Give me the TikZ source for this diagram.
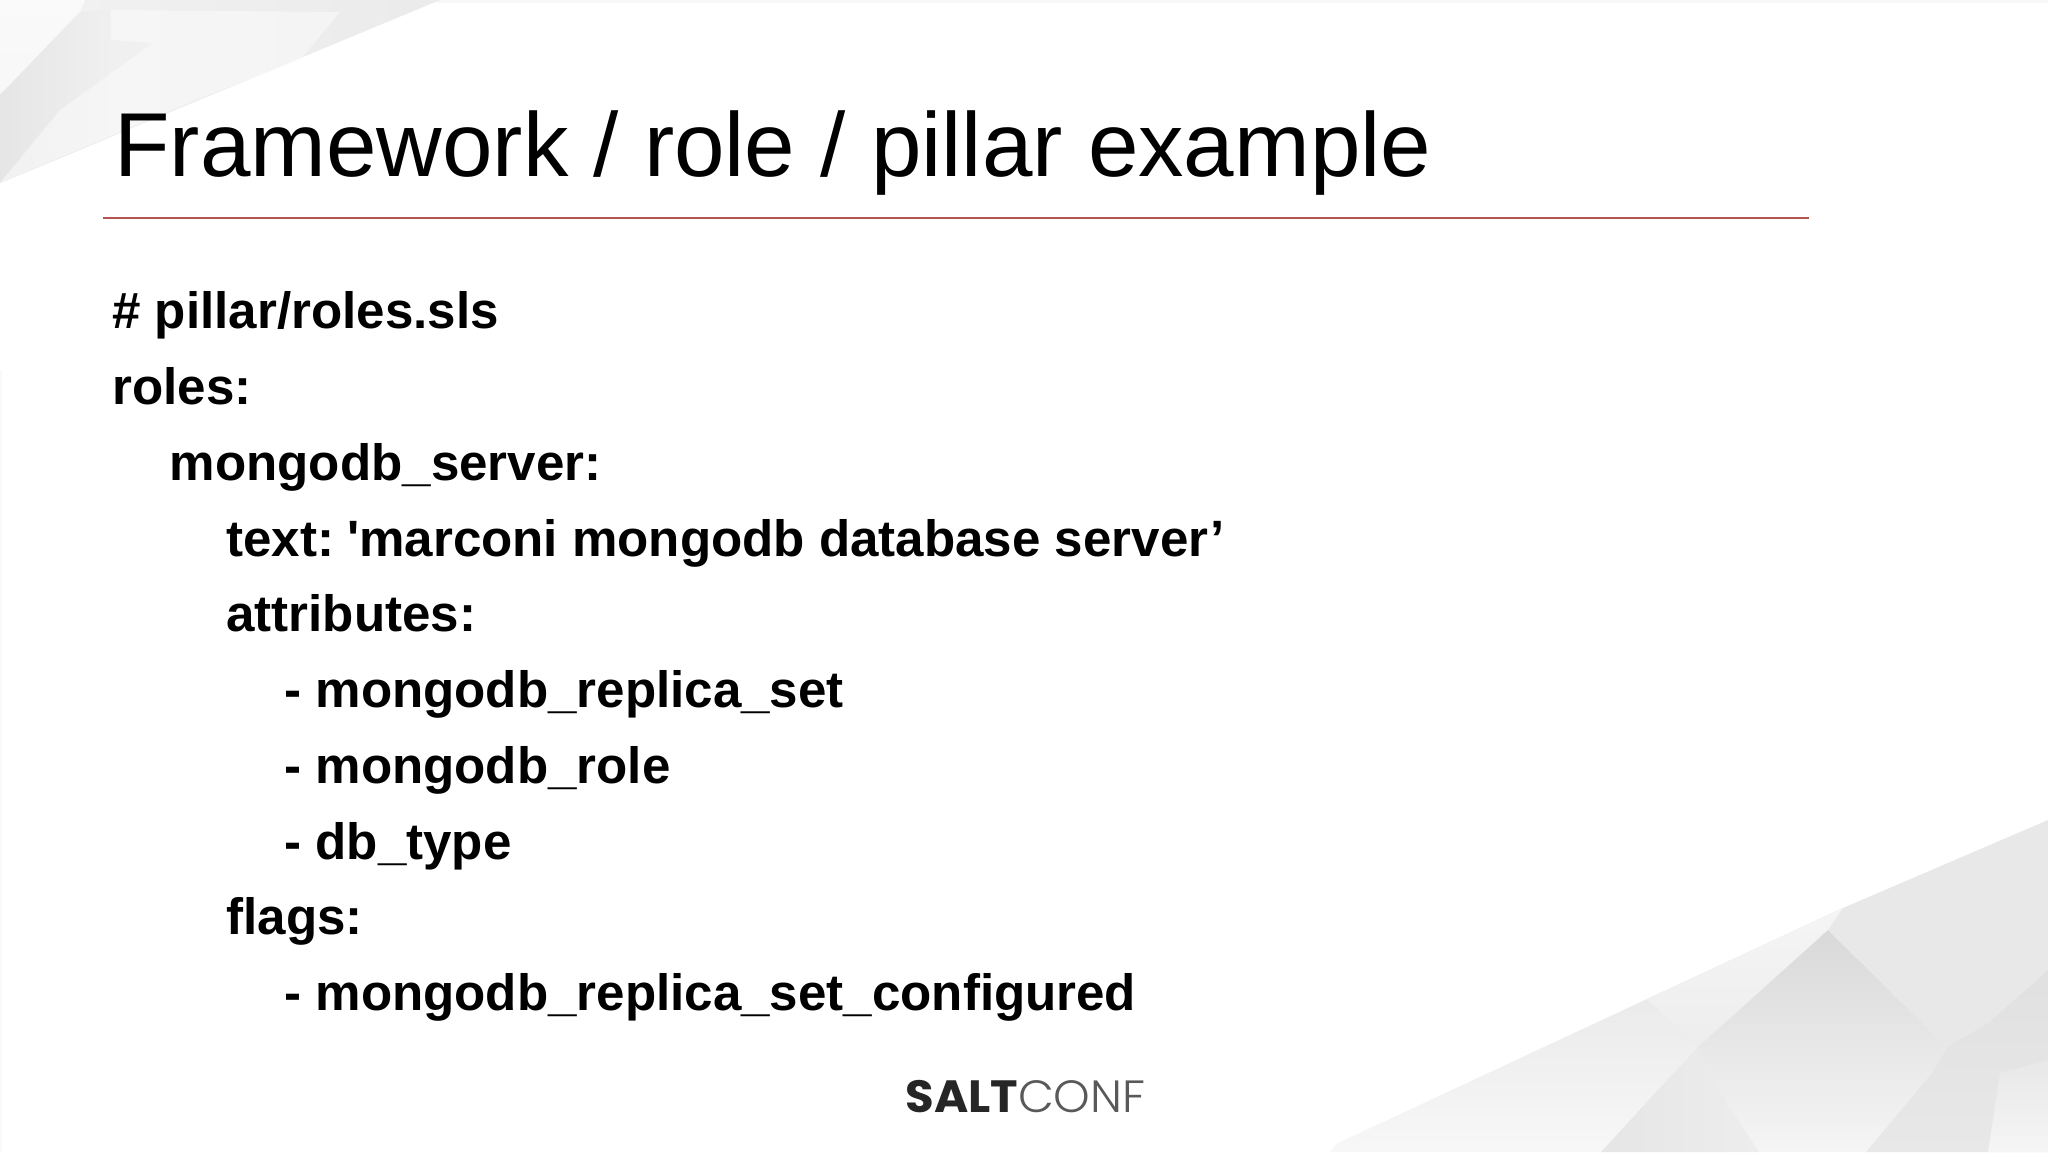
\documentclass[tikz,border=0pt]{standalone}
\usepackage{fontspec}
\setmainfont{Liberation Sans}
\newfontfamily\codefont{Liberation Sans}
\newfontfamily\logofont{Poppins}
\newfontfamily\logolight{Poppins Light}
\definecolor{rulered}{HTML}{B85450}
\tikzset{
  x=0.5pt,y=-0.5pt,
  codeline/.style={anchor=base west,inner sep=0pt,font=\codefont\fontsize{25.55}{30}\selectfont\bfseries,text=black},
  titletext/.style={anchor=base west,inner sep=0pt,font=\fontsize{45.4}{52}\selectfont,text=black},
}
\begin{document}
\begin{tikzpicture}
\useasboundingbox (0,0) rectangle (2048,1152);
\fill[white] (0,0) rectangle (2048,1152);
% faint edges
\fill[black!3] (437,0) rectangle (2048,3);
\fill[black!2] (0,370) rectangle (2,1152);
% top-left facets
\shade[left color=black!5,right color=black!8] (0,0) -- (440,0) -- (0,183) -- cycle;
\shade[top color=black!2,bottom color=black!3] (0,0) -- (85,0) -- (80,12) -- (0,95) -- cycle;
\shade[left color=black!10,right color=black!6] (0,95) -- (80,12) -- (111,10) -- (111,137) -- (0,183) -- cycle;
\fill[black!2,opacity=.6] (111,10) -- (340,12) -- (300,60) -- (195,100) -- (153,43) -- (111,40) -- cycle;
\fill[black!2,opacity=.6] (0,183) -- (195,100) -- (153,43) -- (60,110) -- cycle;
% bottom-right facets
\shade[top color=black!11,bottom color=black!3] (1843,908) -- (1647,999) -- (1336,1144) -- (1330,1152) -- (1601,1152) -- (1667,1080) -- (1698,1047) -- cycle;
\shade[top color=black!4,bottom color=black!7] (1843,908) -- (1828,930) -- (1698,1047) -- (1647,999) -- cycle;
\shade[top color=black!15,bottom color=black!4] (1828,930) -- (1947,1047) -- (1932,1073) -- (1866,1152) -- (1759,1152) -- (1708,1073) -- (1698,1047) -- cycle;
\shade[left color=black!10,right color=black!7] (1667,1080) -- (1698,1047) -- (1708,1073) -- (1759,1152) -- (1601,1152) -- cycle;
\fill[black!9] (1843,908) -- (2048,820) -- (2048,970) -- (1988,1023) -- (1947,1047) -- (1828,930) -- cycle;
\shade[top color=black!12,bottom color=black!9] (2048,970) -- (1988,1023) -- (1947,1047) -- (1932,1073) -- (1866,1152) -- (2048,1152) -- cycle;
\shade[top color=black!9,bottom color=black!4] (1988,1152) -- (2000,1073) -- (2048,1060) -- (2048,1152) -- cycle;
% title and rule
\node[titletext] (title) at (114,176) {Framework / role / pillar example};
\coordinate (ruleL) at (103,218);
\coordinate (ruleR) at (1809,218);
\draw[rulered,line width=1.25pt] (ruleL) -- (ruleR);
% code
\node[codeline] (l1) at (112,328) {\# pillar/roles.sls};
\node[codeline] (l2) at (112,404) {roles:};
\node[codeline] (l3) at (169.5,480) {mongodb\_server:};
\node[codeline] (l4) at (226,556) {text: \kern-3pt'marconi mongodb database server’};
\node[codeline] (l5) at (226,631) {attributes:};
\node[codeline] (l6) at (284,707) {- mongodb\_replica\_set};
\node[codeline] (l7) at (284,783) {- mongodb\_role};
\node[codeline] (l8) at (284,859) {- db\_type};
\node[codeline] (l9) at (226,934) {flags:};
\node[codeline] (l10) at (284,1010) {- mongodb\_replica\_set\_configured};
% logo
\node[anchor=base west,inner sep=0pt,font=\fontsize{22.6}{24}\selectfont,text=black!85,xscale=1.03,transform shape] (logo) at (905,1112) {{\logofont\bfseries SALT}{\logolight\color{black!65}CONF}};
\end{tikzpicture}
\end{document}
